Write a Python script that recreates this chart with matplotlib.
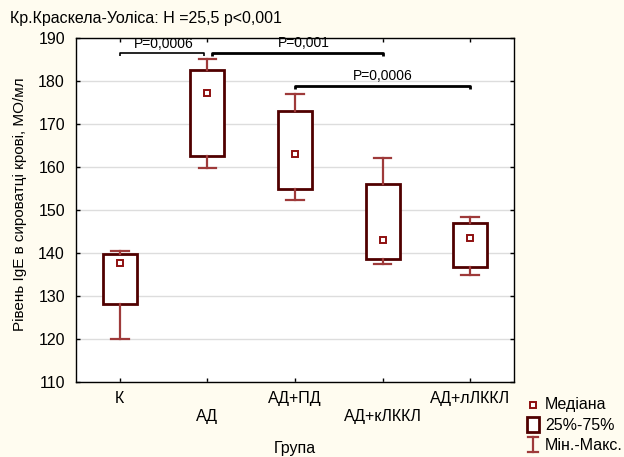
import matplotlib
matplotlib.use("Agg")
import matplotlib.pyplot as plt
from matplotlib.lines import Line2D
from matplotlib.patches import Rectangle

plt.rcParams['font.family'] = ['Liberation Sans', 'DejaVu Sans']

categories = ["К", "АД", "АД+ПД", "АД+кЛККЛ", "АД+лЛККЛ"]
q1 = [128.1, 162.6, 154.8, 138.6, 136.7]
q3 = [139.7, 182.6, 173.1, 156.0, 146.9]
medians = [137.5, 177.1, 163.0, 142.9, 143.4]
mins = [119.8, 159.8, 152.3, 137.4, 134.8]
maxs = [140.3, 185.2, 176.9, 162.0, 148.3]

# comparisons: (group a, group b, label)
comparisons = [(0, 1, "P=0,0006"), (1, 3, "P=0,001"), (2, 4, "P=0,0006")]
bracket_y = [186.5, 186.6, 178.9]

title = "Кр.Краскела-Уоліса: H =25,5 p<0,001"
ylabel = "Рівень IgE в сироватці крові, МО/мл"
xlabel = "Група"
yticks = [110, 120, 130, 140, 150, 160, 170, 180, 190]

bg = '#fffcf0'
box_col = '#500000'
whisk_col = '#9e3a3a'
med_col = '#8e1010'
FS = 11.5

fig = plt.figure(figsize=(6.24, 4.57), dpi=100, facecolor=bg)
ax = fig.add_axes([76/624, 1-381.5/457, 438/624, 343.5/457])
ax.set_facecolor('white')

stats = []
for i in range(len(categories)):
    stats.append(dict(med=medians[i], q1=q1[i], q3=q3[i], whislo=mins[i],
                      whishi=maxs[i], mean=medians[i], fliers=[]))

ax.bxp(stats, positions=range(len(categories)), widths=0.39, capwidths=0.2,
       showmeans=True, showfliers=False, manage_ticks=False, patch_artist=True,
       boxprops=dict(facecolor='white', edgecolor=box_col, linewidth=2.0),
       whiskerprops=dict(color=whisk_col, linewidth=1.6),
       capprops=dict(color=whisk_col, linewidth=1.6),
       medianprops=dict(linewidth=0),
       meanprops=dict(marker='s', markersize=5, markerfacecolor='white',
                      markeredgecolor=med_col, markeredgewidth=1.4),
       zorder=3)

ax.set_xlim(-0.5, 4.5)
ax.set_ylim(110, 190)
ax.set_yticks(yticks)
ax.yaxis.grid(True, color='#dddddd', linewidth=1)
ax.set_axisbelow(True)

ax.set_xticks(range(len(categories)))
ax.set_xticklabels([c if i % 2 == 0 else "\n" + c for i, c in enumerate(categories)],
                   fontsize=FS, linespacing=1.25)
ax.tick_params(axis='both', direction='in', length=3, width=1, top=True, right=True,
               labelsize=FS)
ax.tick_params(axis='x', pad=7)
ax.tick_params(axis='y', pad=8)
for s in ax.spines.values():
    s.set_linewidth(1)
    s.set_color('black')

ax.set_ylabel(ylabel, fontsize=11)
ax.yaxis.set_label_coords(-0.112, 0.517)
ax.set_xlabel(xlabel, fontsize=FS, labelpad=12)

# brackets
lws = [1.2, 2.0, 2.0]
for (a, b, lab), y, lw in zip(comparisons, bracket_y, lws):
    xa = a + (0.0 if a != 1 else 0.055)
    xb = b - (0.035 if b == 1 else 0.0)
    ax.plot([xa, xa, xb, xb], [y - 0.8, y, y, y - 0.8], color='black', lw=lw,
            solid_capstyle='butt', zorder=4, clip_on=False)
    ax.text((a + b) / 2 + (0.1 if a == 1 else 0.0), y + 0.55, lab, ha='center',
            va='bottom', fontsize=10, zorder=5)

fig.text(10/624, 1-18.5/457, title, fontsize=FS, ha='left', va='center')

# legend (manual, figure pixel coordinates)
def fx(px):
    return px / 624
def fy(py):
    return 1 - py / 457

fig.add_artist(Line2D([fx(532.5)], [fy(404.5)], marker='s', markersize=5,
                      markerfacecolor='white', markeredgecolor=med_col,
                      markeredgewidth=1.4, linestyle='none'))
fig.add_artist(Rectangle((fx(527), fy(432)), fx(12), 15.5/457, facecolor='white',
                         edgecolor=box_col, linewidth=2.0))
fig.add_artist(Line2D([fx(533), fx(533)], [fy(437), fy(452)], color=whisk_col, lw=1.6))
fig.add_artist(Line2D([fx(528), fx(538)], [fy(437), fy(437)], color=whisk_col, lw=1.6))
fig.add_artist(Line2D([fx(528), fx(538)], [fy(452), fy(452)], color=whisk_col, lw=1.6))
for txt, py in [("Медіана", 405), ("25%-75%", 425.5), ("Мін.-Макс.", 445)]:
    fig.text(fx(545), fy(py), txt, fontsize=FS, ha='left', va='center')

fig.savefig('out.png', dpi=100, facecolor=bg)
